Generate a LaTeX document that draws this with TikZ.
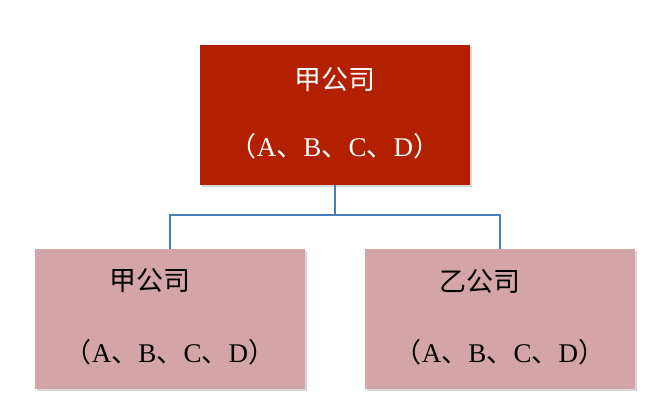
\documentclass[tikz,border=0pt]{standalone}
\usepackage{fontspec}
\setmainfont{Liberation Serif}
\newfontfamily\cjk{Noto Sans CJK SC}
\usetikzlibrary{shadows}
\begin{document}
\begin{tikzpicture}[x=1pt,y=-1pt,
  box/.style={minimum width=270pt,minimum height=140pt,inner sep=0pt,drop shadow={opacity=0.3,shadow xshift=2pt,shadow yshift=-2pt}},
  txt/.style={font=\fontsize{27}{30}\selectfont},
  link/.style={draw=blue!40!gray!90!black,line width=2pt}]
\useasboundingbox (0,0) rectangle (670,420);
\fill[white] (0,0) rectangle (670,420);
\node[box,fill={rgb,255:red,178;green,32;blue,0}] (top) at (335,115) {};
\node[box,fill={rgb,255:red,212;green,165;blue,168}] (left) at (170,319) {};
\node[box,fill={rgb,255:red,212;green,165;blue,168}] (right) at (500,319) {};
\node[txt,text=white] (t1) at (335,80) {\cjk 甲公司};
\node[txt,text=white] (t2) at (335,146) {{\cjk （}A{\cjk 、}B{\cjk 、}C{\cjk 、}D{\cjk ）}};
\node[txt] (l1) at (150,281) {\cjk 甲公司};
\node[txt] (l2) at (170,352) {{\cjk （}A{\cjk 、}B{\cjk 、}C{\cjk 、}D{\cjk ）}};
\node[txt] (r1) at (480,281) {\cjk 乙公司};
\node[txt] (r2) at (500,352) {{\cjk （}A{\cjk 、}B{\cjk 、}C{\cjk 、}D{\cjk ）}};
\coordinate (mid) at (335,215);
\draw[link,draw={rgb,255:red,74;green,126;blue,187}] (top.south) -- (mid) -| (left.north);
\draw[link,draw={rgb,255:red,74;green,126;blue,187}] (mid) -| (right.north);
\end{tikzpicture}
\end{document}
